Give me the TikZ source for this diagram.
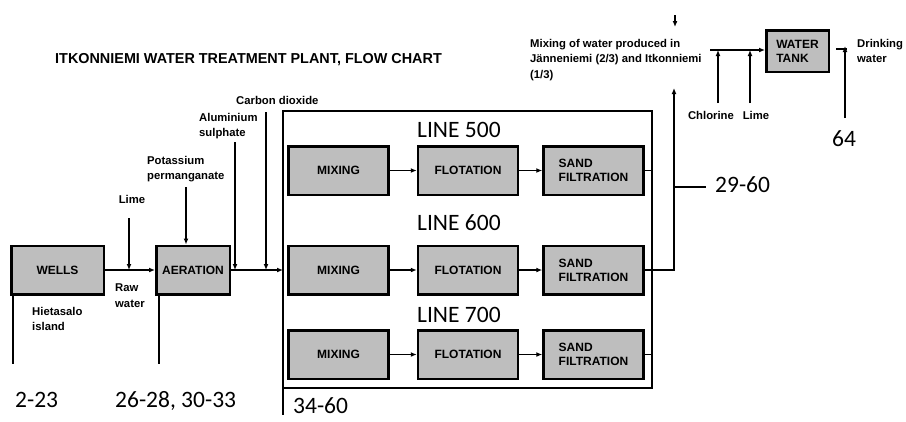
\documentclass[tikz,border=0pt]{standalone}
\usepackage{fontspec}
\setmainfont{Liberation Sans}
\newfontfamily\carlito{Carlito}
\usetikzlibrary{arrows.meta,positioning}
\definecolor{boxgray}{RGB}{190,190,190}

\begin{document}
\begin{tikzpicture}[x=1pt,y=-1pt,>={Latex[length=6pt,width=5pt]}]
  \tikzstyle{box}=[draw,line width=2.5pt,fill=boxgray,minimum height=48.5,inner sep=0pt,align=left,font=\bfseries\fontsize{12}{14}\selectfont]
  \tikzstyle{lbl}=[inner sep=0pt,align=left,font=\bfseries\fontsize{11.3}{15.5}\selectfont]
  \tikzstyle{num}=[inner sep=0pt,font=\carlito\fontsize{23.5}{26}\selectfont]
  \tikzstyle{flow}=[line width=1.3pt]
  \tikzstyle{stub}=[line width=2.8pt]
  \useasboundingbox[fill=white] (0,0) rectangle (906,421);

  \node[anchor=west,inner sep=0pt,font=\bfseries\fontsize{14.4}{16}\selectfont] (title) at (55,60) {ITKONNIEMI WATER TREATMENT PLANT, FLOW CHART};

  % wells and aeration
  \node[box,minimum width=92.5] (wells) at (57.5,270) {WELLS};
  \node[box,minimum width=73.5] (aer) at (193,270) {AERATION};
  \draw[flow,->] (wells) -- (aer);
  \node[lbl,anchor=north west] (hiet) at (32,307) {Hietasalo\\island};
  \node[lbl,anchor=north west] (raw) at (115,284) {Raw\\water};
  \coordinate (wellsend) at (13,364);
  \coordinate (aerend) at (159,364);
  \draw[stub] (wells.south west -| wellsend) -- (wellsend);
  \draw[stub] (aer.south west -| aerend) -- (aerend);
  \node[num,anchor=base west] (n223) at (15,407) {2-23};
  \node[num,anchor=base west] (n2633) at (115,407) {26-28, 30-33};

  % chemicals
  \node[lbl,anchor=north] (lime) at (132,195) {Lime};
  \node[lbl,anchor=north west] (kmno) at (147,156) {Potassium\\permanganate};
  \node[lbl,anchor=north west] (alu) at (199,113) {Aluminium\\sulphate};
  \node[lbl,anchor=north west] (co2) at (236,96) {Carbon dioxide};
  \coordinate (limetop) at (129,218);
  \coordinate (kmnotop) at (186,187);
  \coordinate (alutop) at (235,142);
  \coordinate (co2top) at (266,112);
  \draw[flow,->] (limetop) -- (limetop |- wells.east);
  \draw[flow,->] (kmnotop) -- (kmnotop |- aer.north);
  \draw[flow,->] (alutop) -- (alutop |- aer.east);
  \draw[flow,->] (co2top) -- (co2top |- aer.east);

  % treatment lines
  \node[draw,line width=2.5pt,minimum width=369,minimum height=277,inner sep=0pt,outer sep=0pt] (bank) at (467.5,249.5) {};
  \coordinate (bankend) at (283,415);
  \draw[line width=2.5pt] (bank.south west) -- (bankend);
  \draw[flow,->] (aer.east) -- (aer.east -| bank.west);
  \node[num,anchor=base west] (n3460) at (293,413) {34-60};

  \node[box,minimum width=100] (mix5) at (338.5,170.5) {MIXING};
  \node[box,minimum width=100,right=27pt of mix5] (flo5) {FLOTATION};
  \node[box,minimum width=100,right=23pt of flo5] (sand5) {SAND\\FILTRATION};
  \node[box,minimum width=100] (mix6) at (338.5,270) {MIXING};
  \node[box,minimum width=100,right=27pt of mix6] (flo6) {FLOTATION};
  \node[box,minimum width=100,right=23pt of flo6] (sand6) {SAND\\FILTRATION};
  \node[box,minimum width=100] (mix7) at (338.5,354.5) {MIXING};
  \node[box,minimum width=100,right=27pt of mix7] (flo7) {FLOTATION};
  \node[box,minimum width=100,right=23pt of flo7] (sand7) {SAND\\FILTRATION};
  \node[num,anchor=base west] (l500) at (417,137) {LINE 500};
  \node[num,anchor=base west] (l600) at (417,230) {LINE 600};
  \node[num,anchor=base west] (l700) at (417,322) {LINE 700};
  \draw[flow,->] (mix5) -- (flo5);
  \draw[flow,->] (flo5) -- (sand5);
  \draw[flow,->] (mix6) -- (flo6);
  \draw[flow,->] (flo6) -- (sand6);
  \draw[flow,->] (mix7) -- (flo7);
  \draw[flow,->] (flo7) -- (sand7);

  % outlet
  \coordinate (mixtop) at (674,88);
  \draw[flow] (sand5.east) -- (sand5.east -| bank.east);
  \draw[flow,->] (sand6.east) -| (mixtop);
  \draw[flow] (sand7.east) -- (sand7.east -| bank.east);
  \coordinate (tap) at (674,187);
  \coordinate (tapend) at (706,187);
  \draw[stub,line width=2pt] (tap) -- (tapend);
  \node[num,anchor=base west] (n2960) at (715,192) {29-60};

  % mixing and water tank
  \coordinate (dtop) at (675,15);
  \coordinate (dbot) at (675,27);
  \draw[flow,->] (dtop) -- (dbot);
  \node[lbl,anchor=north west] (mixtxt) at (530,39) {Mixing of water produced in\\J\"anneniemi (2/3) and Itkonniemi\\(1/3)};
  \node[box,minimum width=62.5,minimum height=41.5] (tank) at (797.5,51) {WATER\\TANK};
  \coordinate (mixin) at (710,50);
  \draw[flow,->] (mixin) -- (mixin -| tank.west);
  \node[lbl,anchor=north] (chl) at (711,111) {Chlorine};
  \node[lbl,anchor=north] (lime2) at (756,111) {Lime};
  \coordinate (chlbot) at (718,103);
  \coordinate (lime2bot) at (750,103);
  \draw[flow,->] (chlbot) -- (chlbot |- mixin);
  \draw[flow,->] (lime2bot) -- (lime2bot |- mixin);

  \coordinate (tankout) at (836,49);
  \coordinate (dwbot) at (845,118);
  \coordinate (dwtop) at (845,46);
  \draw[flow] (tankout) -- ++(11,0);
  \draw[stub,->] (dwbot) -- (dwtop);
  \node[lbl,anchor=north west] (drink) at (857,39) {Drinking\\water};
  \node[num,anchor=base west] (n64) at (832,146) {64};
\end{tikzpicture}
\end{document}
